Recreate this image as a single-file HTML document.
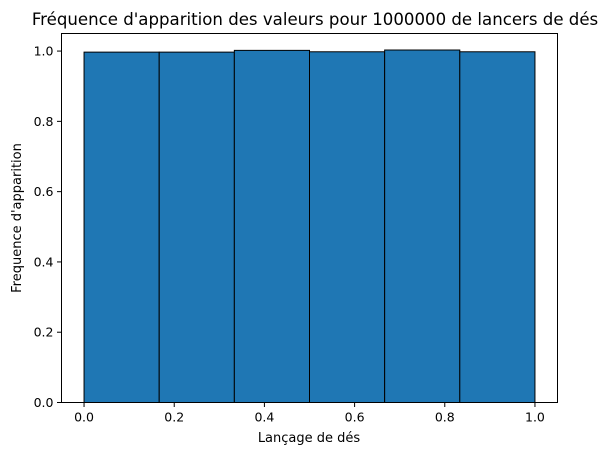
<!DOCTYPE html>
<html><head><meta charset="utf-8"><style>
body{margin:0;background:#fff;}
svg{display:block;font-family:"DejaVu Sans","Liberation Sans",sans-serif;}
</style></head><body>
<svg id="chart" width="602" height="456">
<text x="315" y="25" text-anchor="middle" font-size="16.6">Fréquence d'apparition des valeurs pour 1000000 de lancers de dés</text>
<g id="bars"></g>
<g id="xticks"></g>
<g id="yticks"></g>
<rect x="61.5" y="33.5" width="496" height="369" fill="none" stroke="#000" stroke-width="1"/>
<text x="309" y="442" text-anchor="middle" font-size="13">Lançage de dés</text>
<text x="21" y="218" text-anchor="middle" font-size="13" transform="rotate(-90 21 218)">Frequence d'apparition</text>
</svg>
<script>
const binEdges=[0,1/6,2/6,3/6,4/6,5/6,1];
const binValues=[0.997,0.997,1.002,0.998,1.003,0.998];
const xTicks=[0,0.2,0.4,0.6,0.8,1.0];
const yTicks=[0,0.2,0.4,0.6,0.8,1.0];
const NS="http://www.w3.org/2000/svg";
const L=61.5,R=557.5,T=33.5,B=402.5;
function xs(v){return L+(v+0.05)/1.1*(R-L);}
function ys(v){return B-v/1.05*(B-T);}
const bars=document.getElementById('bars');
binValues.forEach((v,i)=>{
 const r=document.createElementNS(NS,'rect');
 r.setAttribute('x',xs(binEdges[i]));
 r.setAttribute('y',ys(v));
 r.setAttribute('width',xs(binEdges[i+1])-xs(binEdges[i]));
 r.setAttribute('height',B-ys(v));
 r.setAttribute('fill','#1f77b4');
 r.setAttribute('stroke','#000');
 r.setAttribute('stroke-width','1');
 
 
 bars.appendChild(r);
});
const xg=document.getElementById('xticks');
xTicks.forEach(t=>{
 const x=xs(t);
 const l=document.createElementNS(NS,'line');
 l.setAttribute('x1',x);l.setAttribute('x2',x);l.setAttribute('y1',B);l.setAttribute('y2',B+4.5);
 l.setAttribute('stroke','#000');
 
 
 xg.appendChild(l);
 const tx=document.createElementNS(NS,'text');
 tx.setAttribute('x',x);tx.setAttribute('y',B+19);
 tx.setAttribute('text-anchor','middle');tx.setAttribute('font-size','12.5');
 tx.textContent=t.toFixed(1);
 
 
 xg.appendChild(tx);
});
const yg=document.getElementById('yticks');
yTicks.forEach(t=>{
 const y=ys(t);
 const l=document.createElementNS(NS,'line');
 l.setAttribute('x1',L-4.5);l.setAttribute('x2',L);l.setAttribute('y1',y);l.setAttribute('y2',y);
 l.setAttribute('stroke','#000');
 
 
 yg.appendChild(l);
 const tx=document.createElementNS(NS,'text');
 tx.setAttribute('x',L-8);tx.setAttribute('y',y+4.5);
 tx.setAttribute('text-anchor','end');tx.setAttribute('font-size','12.5');
 tx.textContent=t.toFixed(1);
 
 
 yg.appendChild(tx);
});
</script>
</body></html>
